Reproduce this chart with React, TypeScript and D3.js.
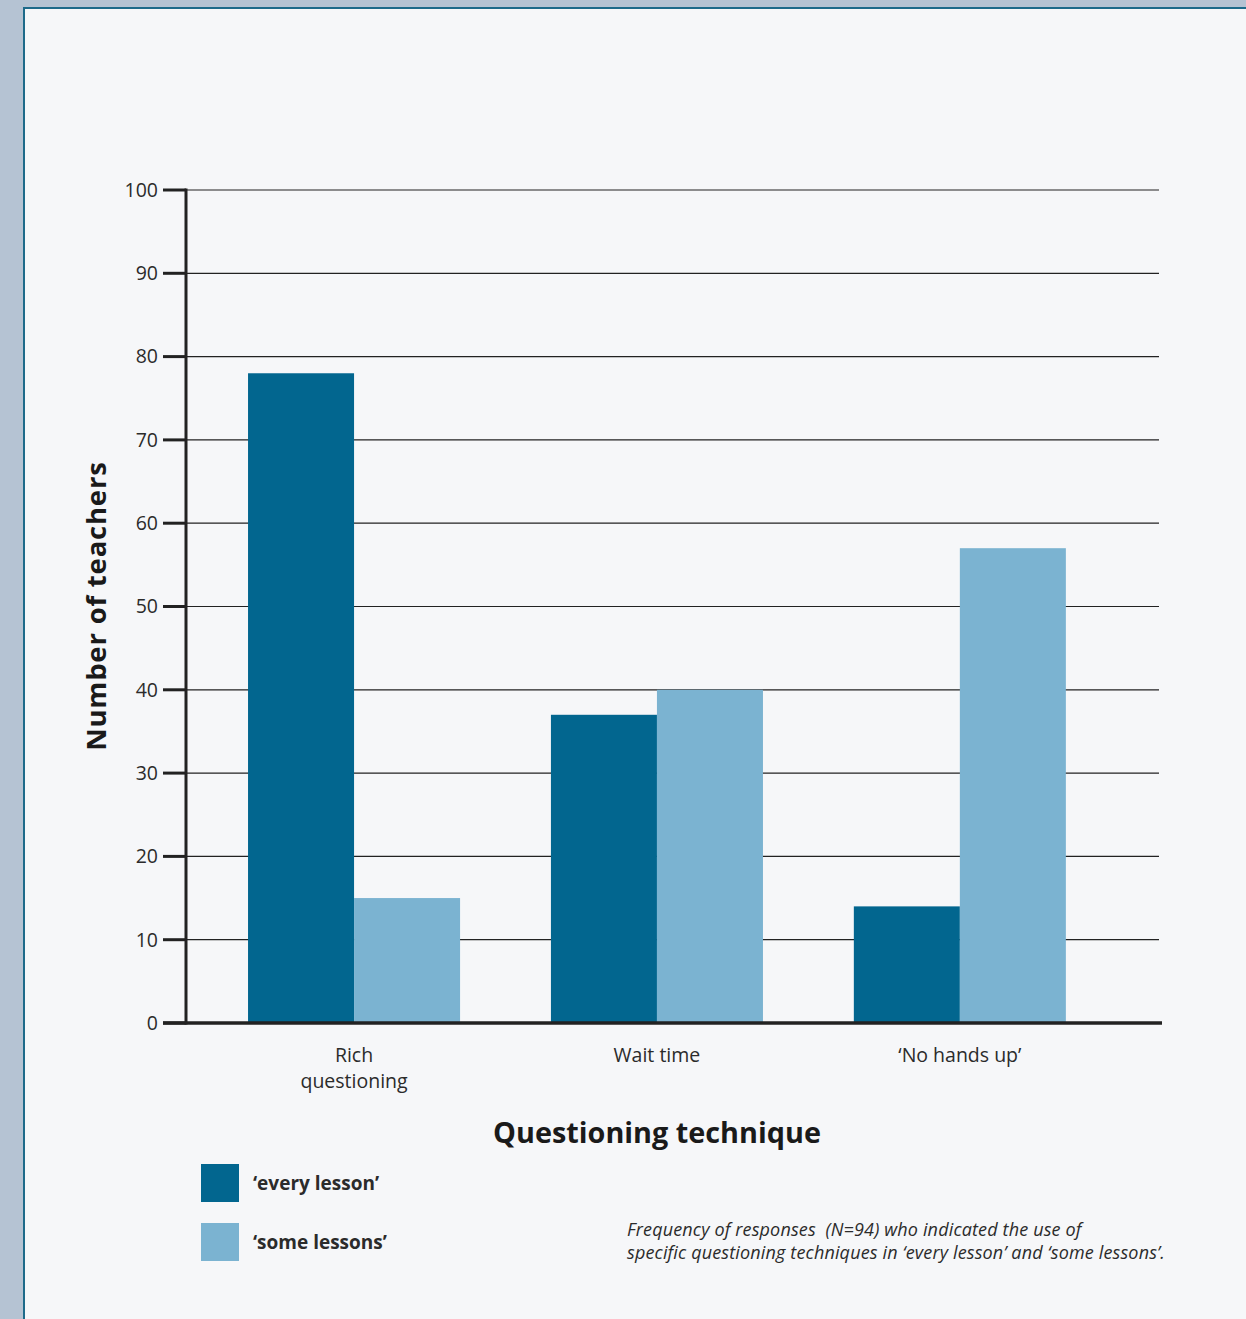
import React from "react";
import * as d3 from "d3";

const categories = ["Rich\nquestioning", "Wait time", "\u2018No hands up\u2019"];
const everyLesson = [78, 37, 14];
const someLessons = [15, 40, 57];
const seriesNames = ["\u2018every lesson\u2019", "\u2018some lessons\u2019"];
const yTicks = [0, 10, 20, 30, 40, 50, 60, 70, 80, 90, 100];
const caption = [
  "Frequency of responses \u00a0(N=94) who indicated the use of",
  "specific questioning techniques in \u2018every lesson\u2019 and \u2018some lessons\u2019.",
];

const W = 1246;
const H = 1319;
const DARK = "#02668f";
const LIGHT = "#7bb3d1";
const FONT = "'Open Sans', 'Noto Sans', sans-serif";
const TEXT = "#2b2b2b";

export default function App() {
  const y = d3.scaleLinear().domain([0, 100]).range([1023, 190]);
  const x = d3
    .scaleBand<string>()
    .domain(categories)
    .range([202.6, 1111.3])
    .paddingInner(0.3)
    .paddingOuter(0.15);
  const sub = d3
    .scaleBand<string>()
    .domain(["every", "some"])
    .range([0, x.bandwidth()]);
  const series = [
    { key: "every", values: everyLesson, color: DARK },
    { key: "some", values: someLessons, color: LIGHT },
  ];
  const axisX = 186;

  return (
    <svg
      width={W}
      height={H}
      style={{ position: "absolute", left: 0, top: 0, display: "block" }}
      fontFamily={FONT}
    >
      <rect x={0} y={0} width={W} height={H} fill="#b5c3d3" />
      <rect x={24} y={8} width={W + 10} height={H + 10} fill="#f6f7f9" stroke="#1d6a8a" strokeWidth={2} />

      {/* gridlines */}
      {yTicks.slice(1).map((t) => (
        <line key={"g" + t} x1={axisX} x2={1159} y1={y(t)} y2={y(t)} stroke="#222" strokeWidth={1.2} />
      ))}

      {/* bars */}
      {series.map((s) =>
        categories.map((c, i) => (
          <rect
            key={s.key + i}
            x={(x(c) as number) + (sub(s.key) as number)}
            y={y(s.values[i])}
            width={sub.bandwidth()}
            height={y(0) - y(s.values[i])}
            fill={s.color}
          />
        ))
      )}

      {/* y ticks */}
      {yTicks.map((t) => (
        <g key={"t" + t}>
          <line x1={163} x2={axisX} y1={y(t)} y2={y(t)} stroke="#222" strokeWidth={3} />
          <text x={158} y={y(t)} dy="0.35em" textAnchor="end" fontSize={19.5} fill={TEXT}>
            {t}
          </text>
        </g>
      ))}
      {/* axes */}
      <line x1={axisX} x2={axisX} y1={y(100) - 1.5} y2={y(0) + 1.5} stroke="#222" strokeWidth={3} />
      <line x1={163} x2={1162} y1={y(0)} y2={y(0)} stroke="#222" strokeWidth={3.5} />

      {/* category labels */}
      {categories.map((c) => {
        const lines = c.split("\n");
        const cx = (x(c) as number) + x.bandwidth() / 2;
        return (
          <text key={c} x={cx} y={1062} textAnchor="middle" fontSize={19.5} fill={TEXT}>
            {lines.map((l, j) => (
              <tspan key={j} x={cx} dy={j === 0 ? 0 : 26}>
                {l}
              </tspan>
            ))}
          </text>
        );
      })}

      {/* axis titles */}
      <text
        transform={`translate(106,606) rotate(-90)`}
        textAnchor="middle"
        fontSize={27.5}
        letterSpacing={0.8}
        fontWeight="bold"
        fill="#1a1a1a"
      >
        Number of teachers
      </text>
      <text x={657} y={1143} textAnchor="middle" fontSize={28.8} fontWeight="bold" fill="#1a1a1a">
        Questioning technique
      </text>

      {/* legend */}
      {series.map((s, i) => (
        <g key={"l" + s.key}>
          <rect x={201} y={1164 + i * 59} width={38} height={38} fill={s.color} />
          <text x={253} y={1183 + i * 59} dy="0.35em" fontSize={19} fontWeight="bold" fill={TEXT}>
            {seriesNames[i]}
          </text>
        </g>
      ))}

      {/* caption */}
      {caption.map((l, i) => (
        <text key={"c" + i} x={627} y={1236 + i * 23} fontSize={18} letterSpacing={0.15} fontStyle="italic" fill={TEXT}>
          {l}
        </text>
      ))}
    </svg>
  );
}
